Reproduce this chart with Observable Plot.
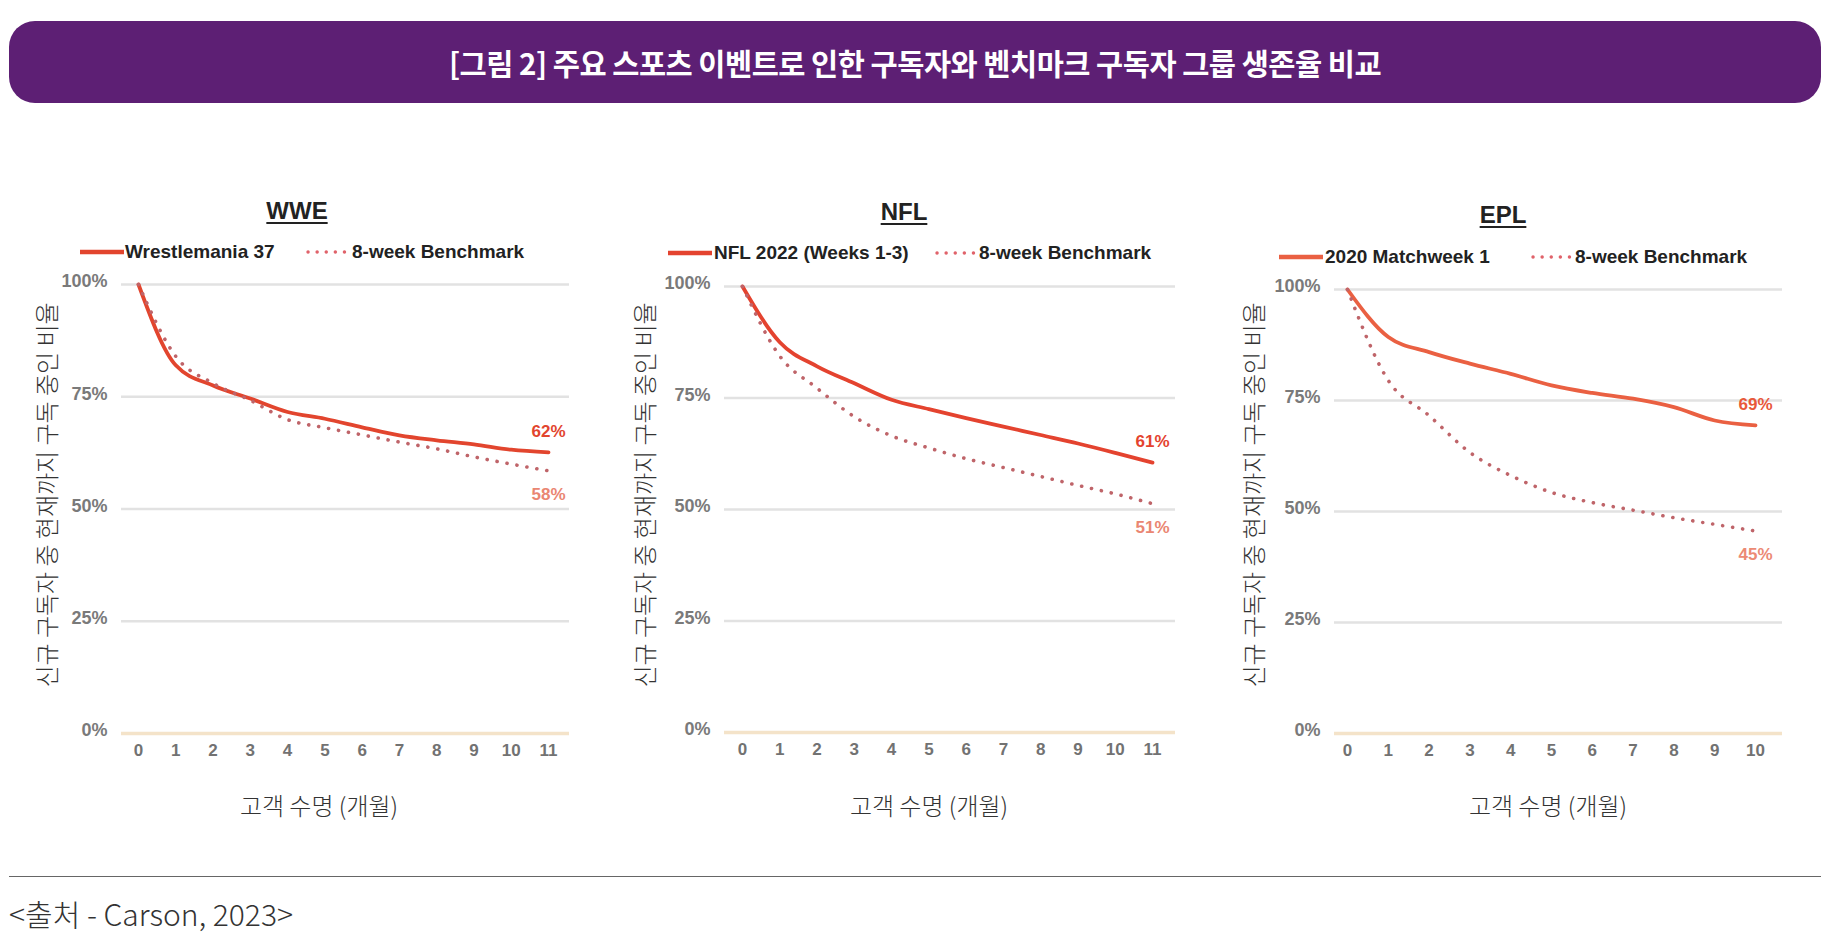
<!DOCTYPE html>
<html>
<head>
<meta charset="utf-8">
<script src="https://cdn.jsdelivr.net/npm/d3@7"></script>
<script src="https://cdn.jsdelivr.net/npm/@observablehq/plot@0.6"></script>
<style>
  html, body { margin: 0; padding: 0; background: #fff; }
  #root { position: relative; width: 1829px; height: 940px; overflow: hidden;
          font-family: "Noto Sans CJK KR", "Noto Sans", sans-serif; }
  .abs { position: absolute; }
  #titlebar { left: 9px; top: 21px; width: 1812px; height: 82px; border-radius: 26px;
              background: #5d1f74; color: #fff; font-weight: 700; font-size: 29.5px;
              display: flex; align-items: center; justify-content: center; letter-spacing: -0.5px; }
  .ptitle { font-family: "Liberation Sans", Arial, sans-serif; font-weight: 700; font-size: 24px;
            color: #222; text-decoration: underline; text-decoration-thickness: 2px;
            text-underline-offset: 3px; transform: translate(-50%, -50%); white-space: nowrap; }
  .legtext { font-family: "Liberation Sans", Arial, sans-serif; font-weight: 700; font-size: 19px;
             color: #222; transform: translateY(-50%); white-space: nowrap; }
  .swatch { transform: translateY(-50%); }
  .ylab { font-size: 24px; font-weight: 300; color: #333; white-space: nowrap;
          transform: translate(-50%, -50%) rotate(-90deg); }
  .xlab { font-size: 24px; font-weight: 300; color: #333; white-space: nowrap;
          transform: translate(-50%, -50%); }
  #rule { left: 9px; top: 876px; width: 1812px; height: 0; border-top: 1.5px solid #666; }
  #source { left: 9px; top: 913px; font-size: 30px; font-weight: 300; color: #333;
            transform: translateY(-50%); white-space: nowrap; }
</style>
</head>
<body>
<div id="root"></div>
<script>
// ---------------- data ----------------
const chartTitle = "[그림 2] 주요 스포츠 이벤트로 인한 구독자와 벤치마크 구독자 그룹 생존율 비교";
const yAxisTitle = "신규 구독자 중 현재까지 구독 중인 비율";
const xAxisTitle = "고객 수명 (개월)";
const sourceText = "<출처 - Carson, 2023>";
const benchName = "8-week Benchmark";
const yTicks = [0, 25, 50, 75, 100];

const panelNames = ["WWE", "NFL", "EPL"];
const mainNames = ["Wrestlemania 37", "NFL 2022 (Weeks 1-3)", "2020 Matchweek 1"];

const wweMonths = [0, 1, 2, 3, 4, 5, 6, 7, 8, 9, 10, 11];
const wweMain   = [100, 82.0, 77.5, 74.6, 71.6, 70.1, 68.2, 66.4, 65.3, 64.4, 63.2, 62.6];
const wweBench  = [100, 84.0, 78.0, 74.2, 69.9, 68.1, 66.5, 64.9, 63.4, 61.6, 60.0, 58.5];
const wweLabels = ["62%", "58%"];

const nflMonths = [0, 1, 2, 3, 4, 5, 6, 7, 8, 9, 10, 11];
const nflMain   = [100, 87.5, 82.1, 78.3, 74.6, 72.5, 70.5, 68.6, 66.7, 64.8, 62.7, 60.5];
const nflBench  = [100, 84.4, 77.2, 70.8, 66.5, 63.8, 61.4, 59.4, 57.4, 55.4, 53.5, 51.3];
const nflLabels = ["61%", "51%"];

const eplMonths = [0, 1, 2, 3, 4, 5, 6, 7, 8, 9, 10];
const eplMain   = [100, 89.3, 85.9, 83.3, 81.0, 78.4, 76.7, 75.4, 73.5, 70.5, 69.4];
const eplBench  = [100, 79.5, 71.6, 63.3, 58.1, 54.3, 52.0, 50.3, 48.6, 47.1, 45.6];
const eplLabels = ["69%", "45%"];

// ---------------- layout / style ----------------
const root = document.getElementById("root");
function el(cls, id, text, css) {
  const d = document.createElement("div");
  d.className = "abs " + (cls || "");
  if (id) d.id = id;
  if (text != null) d.textContent = text;
  if (css) Object.assign(d.style, css);
  root.appendChild(d);
  return d;
}
el("", "titlebar", chartTitle);
el("", "rule");
el("", "source", sourceText);

function swatch(x, y, color, dotted) {
  const ns = "http://www.w3.org/2000/svg";
  const s = document.createElementNS(ns, "svg");
  s.setAttribute("width", 44); s.setAttribute("height", 8);
  s.setAttribute("class", "abs swatch");
  s.style.left = x + "px"; s.style.top = y + "px";
  const l = document.createElementNS(ns, "line");
  l.setAttribute("x1", dotted ? 3 : 0); l.setAttribute("x2", 44);
  l.setAttribute("y1", 4); l.setAttribute("y2", 4);
  l.setAttribute("stroke", color);
  l.setAttribute("stroke-width", dotted ? 3.4 : 4.5);
  if (dotted) { l.setAttribute("stroke-dasharray", "0.1 9"); l.setAttribute("stroke-linecap", "round"); }
  s.appendChild(l);
  root.appendChild(s);
}

const panels = [
  { months: wweMonths, main: wweMain, bench: wweBench, labels: wweLabels,
    mainColor: "#e2452e", benchColor: "#bf6469", labelColors: ["#e2452e", "#ea8672"],
    left: 60, width: 530, marginLeft: 61, marginRight: 21, insetLeft: 17, insetRight: 21,
    marginTop: 19, marginBottom: 42,
    title: [297, 211], leg: { y: 252, s1: 80, t1: 125, s2: 305, t2: 352, color: "#e2452e" },
    ylab: [45, 495], xlab: [319, 804] },
  { months: nflMonths, main: nflMain, bench: nflBench, labels: nflLabels,
    mainColor: "#e4432f", benchColor: "#bf6469", labelColors: ["#e4432f", "#ea8672"],
    left: 660, width: 530, marginLeft: 64, marginRight: 15, insetLeft: 18, insetRight: 23,
    marginTop: 21, marginBottom: 43,
    title: [904, 212], leg: { y: 253, s1: 668, t1: 714, s2: 934, t2: 979, color: "#e4432f" },
    ylab: [643, 495], xlab: [929, 804] },
  { months: eplMonths, main: eplMain, bench: eplBench, labels: eplLabels,
    mainColor: "#ea6042", benchColor: "#bf6469", labelColors: ["#e8583a", "#ec8a74"],
    left: 1270, width: 540, marginLeft: 64, marginRight: 28, insetLeft: 13, insetRight: 27,
    marginTop: 24, marginBottom: 42,
    title: [1503, 215], leg: { y: 257, s1: 1279, t1: 1325, s2: 1530, t2: 1575, color: "#ea6042" },
    ylab: [1252, 495], xlab: [1548, 804] }
];

const svgTop = 265, svgHeight = 510;

panels.forEach((p, i) => {
  el("ptitle", null, panelNames[i], { left: p.title[0] + "px", top: p.title[1] + "px" });
  swatch(p.leg.s1, p.leg.y, p.leg.color, false);
  el("legtext", null, mainNames[i], { left: p.leg.t1 + "px", top: p.leg.y + "px" });
  swatch(p.leg.s2, p.leg.y, "#e0626a", true);
  el("legtext", null, benchName, { left: p.leg.t2 + "px", top: p.leg.y + "px" });
  el("ylab", null, yAxisTitle, { left: p.ylab[0] + "px", top: p.ylab[1] + "px" });
  el("xlab", null, xAxisTitle, { left: p.xlab[0] + "px", top: p.xlab[1] + "px" });

  const mainRows = p.months.map((m, j) => ({ month: m, value: p.main[j] }));
  const benchRows = p.months.map((m, j) => ({ month: m, value: p.bench[j] }));
  const lastMain = mainRows[mainRows.length - 1];
  const lastBench = benchRows[benchRows.length - 1];

  const chart = Plot.plot({
    width: p.width,
    height: svgHeight,
    marginLeft: p.marginLeft, marginRight: p.marginRight,
    marginTop: p.marginTop, marginBottom: p.marginBottom,
    x: { domain: [p.months[0], p.months[p.months.length - 1]], insetLeft: p.insetLeft, insetRight: p.insetRight },
    y: { domain: [0, 100] },
    style: { fontFamily: "'Liberation Sans', Arial, sans-serif", fontWeight: "bold", background: "transparent", overflow: "visible" },
    marks: [
      Plot.ruleY(yTicks.filter(d => d > 0), { stroke: "#e2e2e2", strokeWidth: 2.5 }),
      Plot.ruleY([0], { stroke: "#f4e3c9", strokeWidth: 3.5 }),
      Plot.axisY({ ticks: yTicks, tickFormat: d => d + "%", tickSize: 0, tickPadding: 14,
                   fontSize: 18, color: "#7a7a7a", dy: -3, label: null }),
      Plot.axisX({ ticks: p.months, tickFormat: d => String(d), tickSize: 0, tickPadding: 10,
                   fontSize: 17, color: "#727272", label: null }),
      Plot.line(mainRows, { x: "month", y: "value", stroke: p.mainColor, strokeWidth: 3.8, curve: "monotone-x" }),
      Plot.line(benchRows, { x: "month", y: "value", stroke: p.benchColor, strokeWidth: 3.6,
                             strokeDasharray: "0.1 10", strokeLinecap: "round", curve: "monotone-x" }),
      Plot.text([lastMain], { x: "month", y: "value", text: () => p.labels[0], dy: -21,
                              fill: p.labelColors[0], fontSize: 17, fontWeight: "bold" }),
      Plot.text([lastBench], { x: "month", y: "value", text: () => p.labels[1], dy: 24,
                               fill: p.labelColors[1], fontSize: 17, fontWeight: "bold" })
    ]
  });
  const wrap = document.createElement("div");
  wrap.className = "abs";
  wrap.style.left = p.left + "px";
  wrap.style.top = svgTop + "px";
  wrap.appendChild(chart);
  root.appendChild(wrap);
});
</script>
</body>
</html>
